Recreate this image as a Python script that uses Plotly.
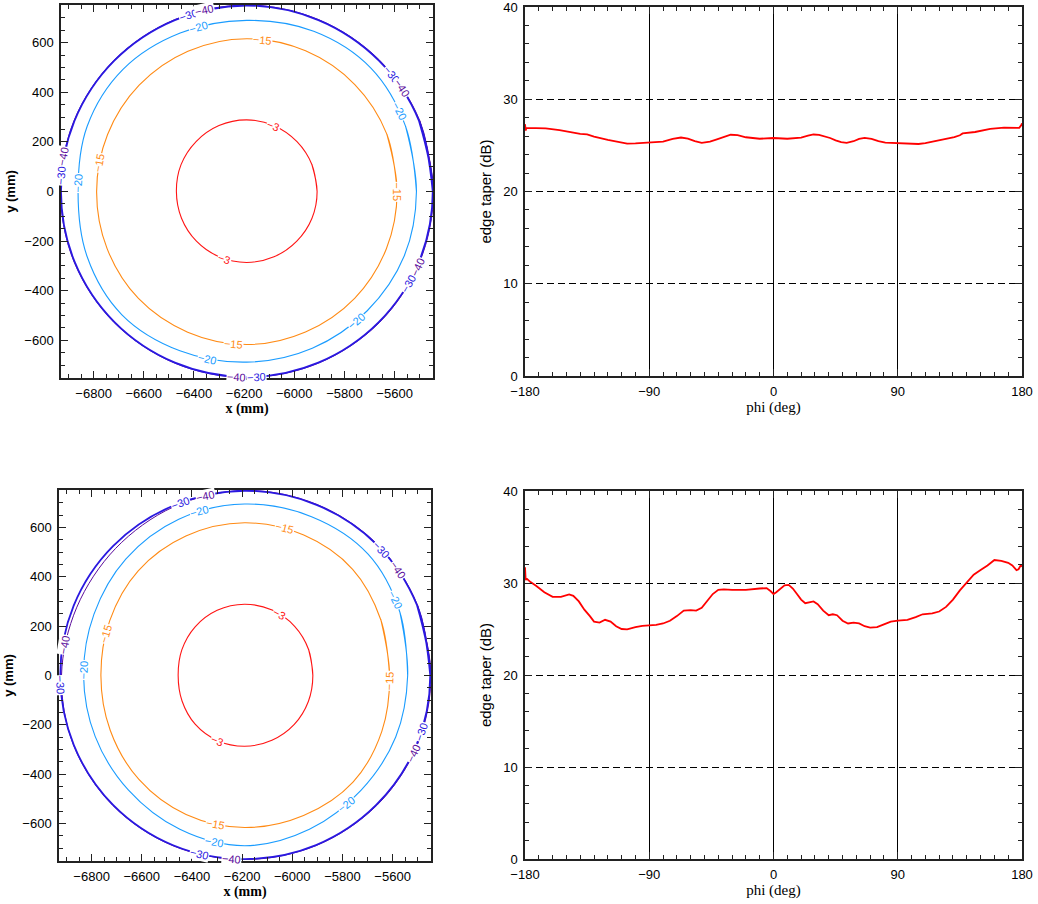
import numpy as np
import plotly.graph_objects as go

# ---------------- contour maps (radius in mm from the beam centre at these polar angles) ----------------
ANGLES = [0, 22.5, 45, 67.5, 90, 112.5, 135, 157.5, 180, 202.5, 225, 247.5, 270, 292.5, 315, 337.5]
CENTER_X = -6190
CENTER_Y = 0
LEVELS = [-3, -15, -20, -30, -40]
LEVEL_COLORS = {-3: "#ff1414", -15: "#ff8a14", -20: "#1a9cff", -30: "#2a18e0", -40: "#5b0c9c"}
LEVEL_WIDTHS = {-3: 1.1, -15: 1.1, -20: 1.1, -30: 1.8, -40: 1.0}

top_radii = {
    -3:  [281, 282, 284, 287, 289, 288, 285, 283, 280, 281, 283, 285, 286, 285, 283, 282],
    -15: [600, 605, 610, 614, 616, 612, 606, 600, 598, 602, 610, 614, 617, 613, 609, 603],
    -20: [677, 686, 702, 699, 690, 692, 697, 688, 672, 688, 703, 695, 688, 684, 680, 680],
    -30: [742, 744, 746, 748, 750, 748, 746, 743, 740, 742, 745, 747, 748, 747, 745, 743],
    -40: [745, 747, 749, 750, 752, 750, 748, 745, 742, 744, 747, 749, 750, 749, 748, 746],
}
top_label_angles = {
    -3: [68, 252],
    -15: [84, 169, 0, 265],
    -20: [106, 28, 177, 310, 257],
    -30: [108, 39, 330, 175, 273],
    -40: [103, 34, 336, 169, 267],
}

bottom_radii = {
    -3:  [272, 276, 282, 287, 289, 286, 279, 271, 265, 270, 279, 285, 287, 284, 280, 275],
    -15: [578, 588, 609, 616, 619, 612, 600, 582, 573, 580, 596, 610, 616, 614, 611, 592],
    -20: [650, 670, 696, 697, 695, 686, 669, 650, 642, 645, 656, 675, 690, 675, 657, 652],
    -30: [740, 744, 748, 749, 749, 745, 742, 738, 735, 737, 742, 745, 744, 744, 742, 741],
    -40: [743, 746, 750, 751, 750, 740, 728, 724, 730, 738, 744, 747, 746, 746, 745, 744],
}
bottom_label_angles = {
    -3: [61, 248],
    -15: [75, 163, 358, 259],
    -20: [105, 27, 178, 308, 260],
    -30: [110, 43, 342, 183, 256],
    -40: [102, 35, 335, 170, 266],
}

# ---------------- edge taper vs phi ----------------
phi_top = [-180, -179.5, -179, -175, -165, -155, -148, -140, -135, -130, -120, -110, -106, -100, -90,
           -80, -73, -67, -62, -57, -52, -46, -41, -35, -31, -26, -20, -10, 0, 10, 20, 25, 29, 33, 37,
           41, 45, 49, 53, 58, 62, 66, 71, 76, 81, 90, 97, 105, 110, 115, 123, 131, 135, 137, 146,
           157, 167, 175, 178, 179.5, 180]
taper_top = [27.3, 26.6, 26.9, 26.9, 26.85, 26.65, 26.45, 26.25, 26.2, 25.95, 25.6, 25.35, 25.2, 25.22, 25.27,
             25.4, 25.7, 25.85, 25.72, 25.45, 25.27, 25.4, 25.65, 25.95, 26.15, 26.12, 25.88, 25.72, 25.8, 25.72,
             25.85, 26.05, 26.18, 26.15, 26.0, 25.8, 25.55, 25.35, 25.27, 25.45, 25.7, 25.82, 25.7, 25.45, 25.3,
             25.25, 25.2, 25.15, 25.25, 25.4, 25.65, 25.9, 26.1, 26.3, 26.45, 26.8, 26.92, 26.85, 26.9, 27.2, 27.4]

phi_bottom = [-180, -179.5, -179, -176, -172, -166, -160, -154, -148, -145, -141, -137, -133, -130, -126,
              -122, -118, -114, -110, -106, -100, -95, -90, -85, -80, -75, -70, -65, -60, -56, -52, -48,
              -44, -40, -36, -30, -20, -10, -5, -2, 0, 2, 5, 8, 11, 14, 17, 20, 23, 26, 29, 32, 36, 40,
              43, 46, 50, 54, 58, 62, 66, 70, 75, 80, 85, 90, 97, 103, 108, 115, 120, 125, 130, 135, 140,
              145, 150, 155, 160, 165, 170, 173, 176, 177.5, 179, 180]
taper_bottom = [31.7, 30.3, 30.5, 30.1, 29.7, 29.0, 28.5, 28.5, 28.75, 28.6, 28.0, 27.1, 26.4, 25.8, 25.7,
                26.0, 25.8, 25.3, 25.0, 24.95, 25.2, 25.35, 25.4, 25.45, 25.6, 25.9, 26.4, 27.0, 27.05, 27.0,
                27.3, 28.0, 28.8, 29.25, 29.3, 29.25, 29.25, 29.4, 29.45, 29.1, 28.8, 29.0, 29.4, 29.75, 29.8,
                29.4, 28.8, 28.2, 27.8, 27.9, 28.0, 27.7, 27.0, 26.5, 26.6, 26.5, 25.9, 25.6, 25.7, 25.6, 25.3,
                25.15, 25.2, 25.5, 25.8, 25.9, 26.0, 26.3, 26.6, 26.7, 26.9, 27.4, 28.2, 29.2, 30.1, 30.9, 31.4,
                31.9, 32.5, 32.4, 32.2, 31.9, 31.4, 31.5, 31.9, 31.8]

# ---------------- figure ----------------
fig = go.Figure()
W, H = 1038, 904


def contour_panel(xa, ya, radii, label_angles):
    th = np.radians(ANGLES)
    for lev in reversed(LEVELS):
        r = np.array(radii[lev], dtype=float)
        xs = CENTER_X + r * np.cos(th)
        ys = CENTER_Y + r * np.sin(th)
        xs = np.concatenate([xs, xs[:2]])
        ys = np.concatenate([ys, ys[:2]])
        fig.add_trace(go.Scatter(
            x=xs, y=ys, mode="lines", xaxis=xa, yaxis=ya, hoverinfo="skip", showlegend=False,
            line=dict(color=LEVEL_COLORS[lev], width=LEVEL_WIDTHS[lev], shape="spline", smoothing=1.0)))
    for lev in LEVELS:
        rr = list(radii[lev]) + [radii[lev][0]]
        aa = list(ANGLES) + [360]
        for a in label_angles[lev]:
            r = float(np.interp(a % 360, aa, rr))
            x = CENTER_X + r * np.cos(np.radians(a))
            y = CENTER_Y + r * np.sin(np.radians(a))
            rot = a - 90
            while rot > 90:
                rot -= 180
            while rot < -90:
                rot += 180
            fig.add_annotation(
                x=x, y=y, xref=xa, yref=ya, text="\u2212" + str(abs(lev)), showarrow=False,
                textangle=-rot, bgcolor="white", borderpad=0,
                font=dict(family="Liberation Sans", size=11, color=LEVEL_COLORS[lev]))


contour_panel("x", "y", top_radii, top_label_angles)
contour_panel("x3", "y3", bottom_radii, bottom_label_angles)

fig.add_trace(go.Scatter(x=phi_top, y=taper_top, mode="lines", xaxis="x2", yaxis="y2",
                         line=dict(color="#ff0000", width=1.8), showlegend=False, hoverinfo="skip"))
fig.add_trace(go.Scatter(x=phi_bottom, y=taper_bottom, mode="lines", xaxis="x4", yaxis="y4",
                         line=dict(color="#ff0000", width=1.8), showlegend=False, hoverinfo="skip"))

TICKFONT = dict(family="Liberation Sans", size=13, color="black")


def base_axis(**kw):
    d = dict(showline=True, linecolor="#222", linewidth=1.5, mirror="allticks", ticks="inside",
             ticklen=7, tickwidth=1, tickcolor="#222", showgrid=False, zeroline=False,
             tickfont=TICKFONT, ticklabelstandoff=3, automargin=False, ticklabeloverflow="allow")
    d.update(kw)
    return d


def map_x(domain, anchor):
    return base_axis(domain=domain, anchor=anchor, range=[-6930, -5447], dtick=200, tick0=0,
                     minor=dict(ticks="inside", ticklen=4, dtick=50, tick0=0, tickcolor="#222", showgrid=False),
                     title=dict(text="x (mm)", standoff=1,
                                font=dict(family="Liberation Serif", size=14, color="black", weight="bold")))


def map_y(domain, anchor):
    return base_axis(domain=domain, anchor=anchor, range=[-752, 752], dtick=200, tick0=0,
                     minor=dict(ticks="inside", ticklen=4, dtick=50, tick0=0, tickcolor="#222", showgrid=False),
                     title=dict(text="y (mm)", standoff=6,
                                font=dict(family="Liberation Sans", size=13, color="black", weight="bold")))


def phi_x(domain, anchor):
    return base_axis(domain=domain, anchor=anchor, range=[-180, 180], dtick=90, tick0=0,
                     showgrid=True, gridcolor="black", gridwidth=1,
                     minor=dict(ticks="inside", ticklen=4, dtick=10, tick0=0, tickcolor="#222", showgrid=False),
                     title=dict(text="phi (deg)", standoff=0,
                                font=dict(family="Liberation Serif", size=15, color="black")))


def taper_y(domain, anchor):
    return base_axis(domain=domain, anchor=anchor, range=[0, 40], dtick=10, tick0=0,
                     showgrid=True, gridcolor="black", gridwidth=1, griddash="7px,4px",
                     minor=dict(ticks="inside", ticklen=4, dtick=2, tick0=0, tickcolor="#222", showgrid=False),
                     title=dict(text="edge taper (dB)", standoff=8,
                                font=dict(family="Liberation Sans", size=15, color="black")))


def dom_x(a, b):
    return [a / W, b / W]


def dom_y(top, bottom):
    return [1 - bottom / H, 1 - top / H]


fig.update_layout(
    width=W, height=H, autosize=False,
    margin=dict(l=0, r=0, t=0, b=0, autoexpand=False),
    paper_bgcolor="white", plot_bgcolor="white",
    showlegend=False,
    xaxis=map_x(dom_x(61, 433), "y"),
    yaxis=map_y(dom_y(5, 378), "x"),
    xaxis2=phi_x(dom_x(525, 1022), "y2"),
    yaxis2=taper_y(dom_y(7, 376), "x2"),
    xaxis3=map_x(dom_x(59, 431), "y3"),
    yaxis3=map_y(dom_y(490, 861), "x3"),
    xaxis4=phi_x(dom_x(525, 1022), "y4"),
    yaxis4=taper_y(dom_y(491, 859), "x4"),
)

# remove the default page margin so the figure fills the window exactly
fig.write_html("out.html", config={"displayModeBar": False},
               post_script="document.body.style.margin='0';document.body.style.overflow='hidden';")
